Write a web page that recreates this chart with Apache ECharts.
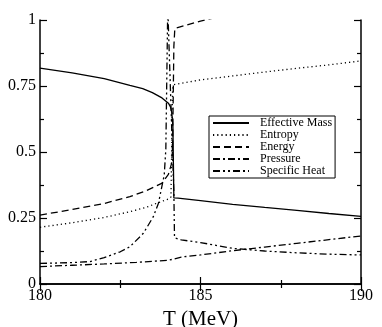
<!DOCTYPE html>
<html><head><meta charset="utf-8">
<script src="https://cdn.jsdelivr.net/npm/echarts@6/dist/echarts.min.js"></script>
<style>html,body{margin:0;padding:0;background:#fff}#c{width:382px;height:327px}</style>
</head><body><div id="c"></div>
<script>
var seriesNames = ['Effective Mass','Entropy','Energy','Pressure','Specific Heat'];
var xTicks = [180,185,190];
var yTicks = [0,0.25,0.5,0.75,1];

var emX = [180,181,182,182.8,183.2,183.5,183.8,184.0,184.06,184.1,184.14,184.17,184.3,185,186,187,188,189,190];
var emY = [0.818,0.80,0.778,0.752,0.74,0.725,0.705,0.685,0.672,0.655,0.6,0.326,0.325,0.316,0.302,0.29,0.279,0.267,0.256];

var enX = [180,181,182,182.8,183.3,183.64,184.0,184.08,184.13,184.17,185,186,187,188,189,190];
var enY = [0.215,0.232,0.252,0.274,0.29,0.306,0.322,0.33,0.74,0.755,0.773,0.788,0.803,0.817,0.83,0.845];

var egX = [180,181,182,182.8,183.3,183.79,184.0,184.1,184.13,184.17,184.2,185,185.5,186];
var egY = [0.261,0.282,0.305,0.331,0.353,0.381,0.415,0.457,0.51,0.9,0.968,0.996,1.01,1.03];

var prX = [180,181,182,183,184,184.15,184.4,185,186,187,188,189,190];
var prY = [0.066,0.071,0.076,0.082,0.09,0.094,0.102,0.11,0.126,0.14,0.154,0.168,0.182];

var shX = [180,181,181.56,182,182.5,182.8,183.22,183.53,183.69,183.87,183.92,183.98,184.03,184.1,184.17,184.19,184.4,185,186,187,188,189,190];
var shY = [0.078,0.081,0.085,0.1,0.122,0.141,0.192,0.255,0.306,0.413,0.51,1.05,1.05,0.6,0.35,0.175,0.167,0.157,0.135,0.125,0.118,0.113,0.11];

function pairs(xs, ys){ return xs.map(function(x,i){return [x, ys[i]];}); }

var dashes = ['solid',[1.2,3],[7,4],[7,3,2,3],[7,3,2,3,2,3]];
var datasets = [pairs(emX,emY),pairs(enX,enY),pairs(egX,egY),pairs(prX,prY),pairs(shX,shY)];

var font = 'Liberation Serif';
var axisCommon = {
  type:'value', axisLine:{show:true,lineStyle:{color:'#000',width:1.5}},
  splitLine:{show:false},
  axisTick:{show:true,inside:true,length:7,lineStyle:{color:'#000',width:1.2}},
  minorTick:{show:true,splitNumber:2,length:4,lineStyle:{color:'#000',width:1.2}}
};
function ax(extra){ return Object.assign({}, JSON.parse(JSON.stringify(axisCommon)), extra); }

var chart = echarts.init(document.getElementById('c'), null, {renderer:'canvas'});
chart.setOption({
  animation:false,
  backgroundColor:'#fff',
  grid:{left:40,right:21,top:20,bottom:43,containLabel:false,outerBoundsMode:'none'},
  legend:{
    orient:'vertical', left:209, top:116,
    data:seriesNames,
    borderColor:'#000', borderWidth:1, padding:[1,3,1,3],
    itemWidth:36, itemHeight:9, itemGap:0,
    itemStyle:{opacity:0},
    textStyle:{fontFamily:font,fontSize:12,lineHeight:10,color:'#000',padding:[0,0,0,6]}
  },
  xAxis:[
    ax({min:180,max:190,interval:5,position:'bottom',
      name:'T (MeV)',nameLocation:'middle',nameGap:21,
      nameTextStyle:{fontFamily:font,fontSize:21,color:'#000'},
      axisLabel:{fontFamily:font,fontSize:16,color:'#000',margin:4}}),
    ax({min:180,max:190,interval:5,position:'top',axisLabel:{show:false}})
  ],
  yAxis:[
    ax({min:0,max:1,interval:0.25,position:'left',
      axisLabel:{fontFamily:font,fontSize:16,color:'#000',margin:4}}),
    ax({min:0,max:1,interval:0.25,position:'right',axisLabel:{show:false}})
  ],
  series: seriesNames.map(function(n,i){
    return {name:n,type:'line',data:datasets[i],showSymbol:false,symbol:'none',
      clip:true,lineStyle:{color:'#000',width:1.3,type:dashes[i]},itemStyle:{color:'#000'}};
  })
});
</script></body></html>
